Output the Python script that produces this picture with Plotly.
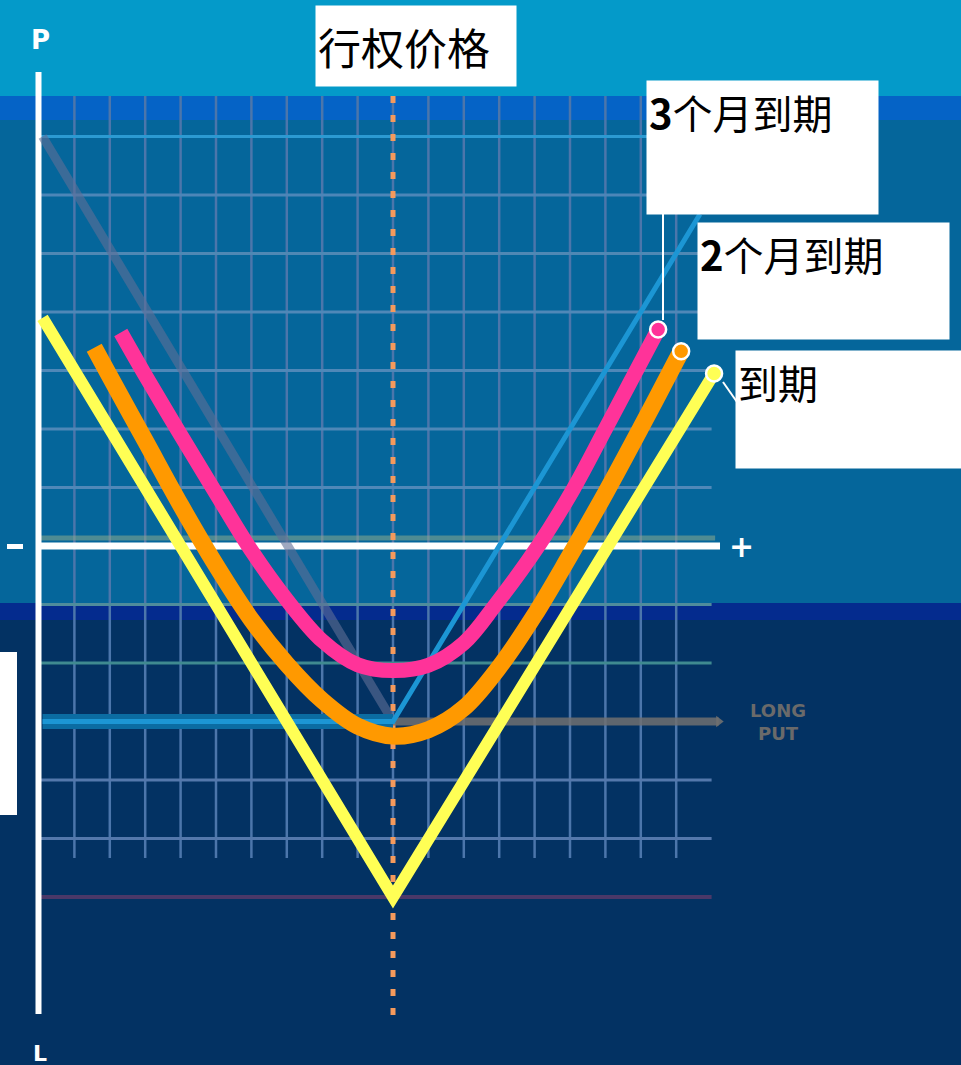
import plotly.graph_objects as go

# ---------------- data (x: underlying price units, y: profit / loss units) ----------------
strike = 10.0

expiry_x = [0.1, 10.0, 19.07]
expiry_pl = [3.9, -6.0, 2.95]

two_month_x = [1.56, 2.0, 3.0, 4.0, 5.0, 6.0, 7.0, 8.0, 9.0, 10.0,
               11.0, 12.0, 13.0, 14.0, 15.0, 16.0, 17.0, 18.0, 18.14]
two_month_pl = [3.39, 2.90, 1.80, 0.70, -0.33, -1.26, -2.02, -2.64, -3.08, -3.25,
                -3.14, -2.77, -2.07, -1.18, -0.16, 0.90, 2.02, 3.17, 3.33]

three_month_x = [2.31, 3.0, 4.0, 5.0, 6.0, 7.0, 8.0, 9.0, 10.0,
                 11.0, 12.0, 12.9, 14.1, 15.1, 16.0, 16.85, 17.49]
three_month_pl = [3.65, 2.92, 1.90, 0.90, -0.08, -0.92, -1.62, -2.03, -2.13,
                  -2.04, -1.66, -1.00, 0.00, 0.98, 2.00, 2.97, 3.70]

long_put_x = [0.1, 10.0, 19.2]
long_put_pl = [7.0, -3.0, -3.0]

long_call_x = [0.1, 10.0, 18.67]
long_call_pl = [-3.0, -3.0, 5.67]

title_text = "行权价格"
label_3m = "<b>3</b>个月到期"
label_2m = "<b>2</b>个月到期"
label_exp = "到期"
long_put_text = "<b>LONG<br>PUT</b>"

# ---------------- layout mapping (pixels -> data units) ----------------
W, H = 961, 1065
X_ORIGIN, X_UNIT = 39.0, 35.4
Y_ORIGIN, Y_UNIT = 546.0, 58.5


def dx(p):
    return (p - X_ORIGIN) / X_UNIT


def dy(p):
    return (Y_ORIGIN - p) / Y_UNIT


def py(p):
    return 1 - p / H


fig = go.Figure()

shapes = []
# background bands
bands = [(0, 96, "#049ac9"), (96, 120, "#0563c6"), (120, 603, "#05669b"), (603, 620, "#042b8e")]
for top, bot, col in bands:
    shapes.append(dict(type="rect", xref="paper", yref="paper", x0=0, x1=1,
                       y0=py(bot), y1=py(top), fillcolor=col, line_width=0, layer="below"))

# vertical grid
for gx in range(1, 19):
    shapes.append(dict(type="line", xref="x", yref="y", x0=gx, x1=gx, y0=dy(96), y1=dy(858),
                       line=dict(color="#4c76ab", width=2.5), layer="below"))
# horizontal grid
hgrid = {7: "#2c9ad2", 6: "#4c86b8", 5: "#4f88b4", 4: "#4f88b8", 3: "#4f88b8", 2: "#4f88b8",
         1: "#5088b8", -1: "#4f8c9c", -2: "#3f8a90", -4: "#5478ac", -5: "#5478ac", -6: "#4a3868"}
for gv, col in hgrid.items():
    shapes.append(dict(type="line", xref="x", yref="y", x0=0.05, x1=19.0, y0=gv, y1=gv,
                       line=dict(color=col, width=3 if gv != -6 else 4), layer="below"))
# faint greenish line just above zero line
shapes.append(dict(type="line", xref="x", yref="y", x0=0.05, x1=19.1, y0=dy(538), y1=dy(538),
                   line=dict(color="rgba(140,170,140,0.55)", width=5), layer="below"))
# white rectangle at left
shapes.append(dict(type="rect", xref="paper", yref="paper", x0=0, x1=17 / W, y0=py(815), y1=py(652),
                   fillcolor="white", line_width=0, layer="above"))
# minus sign bar at left of zero line
shapes.append(dict(type="rect", xref="paper", yref="paper", x0=7 / W, x1=23 / W, y0=py(549), y1=py(544),
                   fillcolor="white", line_width=0, layer="above"))
# connector lines
shapes.append(dict(type="line", xref="paper", yref="paper", x0=663 / W, x1=663 / W, y0=py(213), y1=py(320),
                   line=dict(color="white", width=2), layer="above"))
shapes.append(dict(type="line", xref="paper", yref="paper", x0=723 / W, x1=737 / W, y0=py(382), y1=py(402),
                   line=dict(color="white", width=2), layer="above"))

# strike dotted line
fig.add_trace(go.Scatter(x=[strike, strike], y=[dy(96), dy(1016)], mode="lines",
                         line=dict(color="#f59a5c", width=5, dash="7px,12px"), hoverinfo="skip"))
# zero line
fig.add_trace(go.Scatter(x=[0.05, dx(720)], y=[0, 0], mode="lines",
                         line=dict(color="white", width=7), hoverinfo="skip"))
# P axis
fig.add_trace(go.Scatter(x=[dx(38.5), dx(38.5)], y=[dy(72), dy(1014)], mode="lines",
                         line=dict(color="white", width=6), hoverinfo="skip"))

# long put
fig.add_trace(go.Scatter(x=long_put_x[:2], y=long_put_pl[:2], mode="lines",
                         line=dict(color="rgba(95,110,150,0.6)", width=9), hoverinfo="skip"))
fig.add_trace(go.Scatter(x=long_put_x[1:], y=long_put_pl[1:], mode="lines",
                         line=dict(color="rgba(112,112,112,0.85)", width=8), hoverinfo="skip"))
fig.add_trace(go.Scatter(x=[long_put_x[-1]], y=[long_put_pl[-1]], mode="markers",
                         marker=dict(symbol="triangle-right", size=10, color="rgba(112,112,112,0.9)"),
                         hoverinfo="skip"))
# long call (broad band on flat part + line)
fig.add_trace(go.Scatter(x=long_call_x[:2], y=long_call_pl[:2], mode="lines",
                         line=dict(color="#0b6ca2", width=15), hoverinfo="skip"))
fig.add_trace(go.Scatter(x=long_call_x, y=long_call_pl, mode="lines",
                         line=dict(color="#1c96d4", width=5), hoverinfo="skip"))

# expiry (yellow)
fig.add_trace(go.Scatter(x=expiry_x, y=expiry_pl, mode="lines",
                         line=dict(color="#ffff55", width=12), hoverinfo="skip"))
# 2 months (orange)
fig.add_trace(go.Scatter(x=two_month_x, y=two_month_pl, mode="lines",
                         line=dict(color="#ff9900", width=17, shape="spline", smoothing=1.0),
                         hoverinfo="skip"))
# 3 months (pink)
fig.add_trace(go.Scatter(x=three_month_x, y=three_month_pl, mode="lines",
                         line=dict(color="#ff3399", width=15, shape="spline", smoothing=1.0),
                         hoverinfo="skip"))

# end markers
for xs, ys, col in [(three_month_x, three_month_pl, "#ff3399"),
                    (two_month_x, two_month_pl, "#ff9900"),
                    (expiry_x, expiry_pl, "#ffff55")]:
    fig.add_trace(go.Scatter(x=[xs[-1]], y=[ys[-1]], mode="markers",
                             marker=dict(size=16, color=col, line=dict(color="white", width=2.5)),
                             hoverinfo="skip"))

cjk = "Noto Sans CJK SC, Noto Sans, sans-serif"
annotations = [
    dict(xref="paper", yref="paper", x=315 / W, y=py(5), xanchor="left", yanchor="top",
         text=title_text, showarrow=False, bgcolor="white", width=196, height=76, borderpad=2,
         align="left", valign="middle", font=dict(family=cjk, size=43, color="black")),
    dict(xref="paper", yref="paper", x=646 / W, y=py(80), xanchor="left", yanchor="top",
         text=label_3m, showarrow=False, bgcolor="white", width=227, height=129, borderpad=2,
         align="left", valign="top", font=dict(family=cjk, size=40, color="black")),
    dict(xref="paper", yref="paper", x=697 / W, y=py(222), xanchor="left", yanchor="top",
         text=label_2m, showarrow=False, bgcolor="white", width=247, height=112, borderpad=2,
         align="left", valign="top", font=dict(family=cjk, size=40, color="black")),
    dict(xref="paper", yref="paper", x=735 / W, y=py(350), xanchor="left", yanchor="top",
         text=label_exp, showarrow=False, bgcolor="white", width=240, height=113, borderpad=2,
         align="left", valign="top", font=dict(family=cjk, size=40, color="black")),
    dict(xref="paper", yref="paper", x=778 / W, y=py(722), xanchor="center", yanchor="middle",
         text=long_put_text, showarrow=False,
         font=dict(family="DejaVu Sans", size=18, color="#6a6a6a")),
    dict(xref="paper", yref="paper", x=40 / W, y=py(40), xanchor="center", yanchor="middle",
         text="<b>P</b>", showarrow=False, font=dict(family="DejaVu Sans", size=26, color="white")),
    dict(xref="paper", yref="paper", x=40 / W, y=py(1053), xanchor="center", yanchor="middle",
         text="<b>L</b>", showarrow=False, font=dict(family="DejaVu Sans", size=22, color="white")),
    dict(xref="paper", yref="paper", x=741 / W, y=py(546), xanchor="center", yanchor="middle",
         text="<b>+</b>", showarrow=False, font=dict(family="DejaVu Sans", size=30, color="white")),
]

fig.update_layout(
    width=W, height=H,
    margin=dict(l=0, r=0, t=0, b=0, pad=0),
    paper_bgcolor="#033263", plot_bgcolor="#033263",
    showlegend=False,
    xaxis=dict(range=[dx(0), dx(W)], visible=False, fixedrange=True),
    yaxis=dict(range=[dy(H), dy(0)], visible=False, fixedrange=True),
    shapes=shapes,
    annotations=annotations,
)

fig.write_html("out.html", config={"displayModeBar": False},
               post_script="document.body.style.margin='0';document.body.style.overflow='hidden';")
